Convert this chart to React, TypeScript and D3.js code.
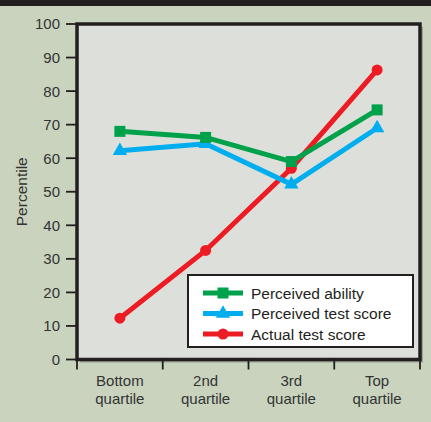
import React from "react";
import * as d3 from "d3";

const categories = ["Bottom quartile", "2nd quartile", "3rd quartile", "Top quartile"];
const perceivedAbility = [68, 66.2, 59, 74.4];
const perceivedTest = [62.2, 64.3, 52.2, 69];
const actualTest = [12.3, 32.5, 57, 86.3];
const yTicks = [0, 10, 20, 30, 40, 50, 60, 70, 80, 90, 100];
const seriesNames = ["Perceived ability", "Perceived test score", "Actual test score"];

const W = 431, H = 422;
const L = 77, R = 420, T = 24, B = 359.5;

export default function App() {
  const x = d3.scaleBand<string>().domain(categories).range([L, R]);
  const y = d3.scaleLinear().domain([0, 100]).range([B, T]);
  const line = d3.line<number>().x((_, i) => (x(categories[i]) as number) + x.bandwidth() / 2).y((d) => y(d));
  const cx = (i: number) => (x(categories[i]) as number) + x.bandwidth() / 2;
  const font = "Liberation Sans, Arial, sans-serif";
  const series = [
    { name: seriesNames[0], data: perceivedAbility, color: "#00a14b", marker: "square" },
    { name: seriesNames[1], data: perceivedTest, color: "#00aeef", marker: "triangle" },
    { name: seriesNames[2], data: actualTest, color: "#ed1c24", marker: "circle" },
  ];
  const drawOrder = [2, 1, 0];
  const marker = (m: string, px: number, py: number, color: string, key: string | number) => {
    if (m === "square") return <rect key={key} x={px - 5.5} y={py - 5.5} width={11} height={11} fill={color} />;
    if (m === "triangle") {
      const s = d3.symbol().type(d3.symbolTriangle).size(90)();
      return <path key={key} d={s as string} transform={`translate(${px},${py})`} fill={color} />;
    }
    return <circle key={key} cx={px} cy={py} r={5.5} fill={color} />;
  };
  const lx = 188, ly = 275, lw = 225, lh = 72;
  return (
    <svg width={W} height={H} style={{ position: "absolute", left: 0, top: 0, display: "block" }}>
      <rect x={0} y={0} width={W} height={H} fill="#c9d3be" />
      <rect x={0} y={0} width={W} height={6} fill="#231f20" />
      {/* shadow */}
      <rect x={L + 3} y={T + 3} width={R - L} height={B - T} fill="#7d8478" opacity={0.6} />
      <rect x={L} y={T} width={R - L} height={B - T} fill="#dde0da" stroke="#231f20" strokeWidth={3.5} />
      {/* y axis ticks */}
      {yTicks.map((t) => (
        <g key={t}>
          <line x1={66} x2={L} y1={y(t)} y2={y(t)} stroke="#231f20" strokeWidth={1.8} />
          <text x={60} y={y(t)} dy="0.36em" textAnchor="end" fontFamily={font} fontSize={15} fill="#333">
            {t}
          </text>
        </g>
      ))}
      {/* x axis ticks */}
      {[...categories.map((c) => x(c) as number), R].map((v, i) => (
        <line key={i} x1={v} x2={v} y1={B} y2={B + 10} stroke="#231f20" strokeWidth={1.8} />
      ))}
      {categories.map((c, i) => {
        const parts = c.split(" ");
        return (
          <text key={c} x={cx(i)} y={385.5} textAnchor="middle" fontFamily={font} fontSize={15} fill="#333">
            <tspan x={cx(i)} dy={0}>{parts[0]}</tspan>
            <tspan x={cx(i)} dy={18.5}>{parts[1]}</tspan>
          </text>
        );
      })}
      <text transform={`translate(27,${(T + B) / 2}) rotate(-90)`} textAnchor="middle" fontFamily={font} fontSize={15.5} fill="#333">
        Percentile
      </text>
      {/* series */}
      {drawOrder.map((si) => {
        const s = series[si];
        return (
          <g key={s.name}>
            <path d={line(s.data) as string} fill="none" stroke={s.color} strokeWidth={5} />
            {s.data.map((d, i) => marker(s.marker, cx(i), y(d), s.color, i))}
          </g>
        );
      })}
      {/* legend */}
      <rect x={lx} y={ly} width={lw} height={lh} fill="#ffffff" stroke="#231f20" strokeWidth={2} />
      {series.map((s, i) => {
        const yy = ly + 18 + i * 20.5;
        return (
          <g key={s.name}>
            <line x1={203} x2={243} y1={yy} y2={yy} stroke={s.color} strokeWidth={5} />
            {marker(s.marker, 223, yy, s.color, "m")}
            <text x={251} y={yy} dy="0.36em" fontFamily={font} fontSize={15.5} fill="#231f20">
              {s.name}
            </text>
          </g>
        );
      })}
    </svg>
  );
}
